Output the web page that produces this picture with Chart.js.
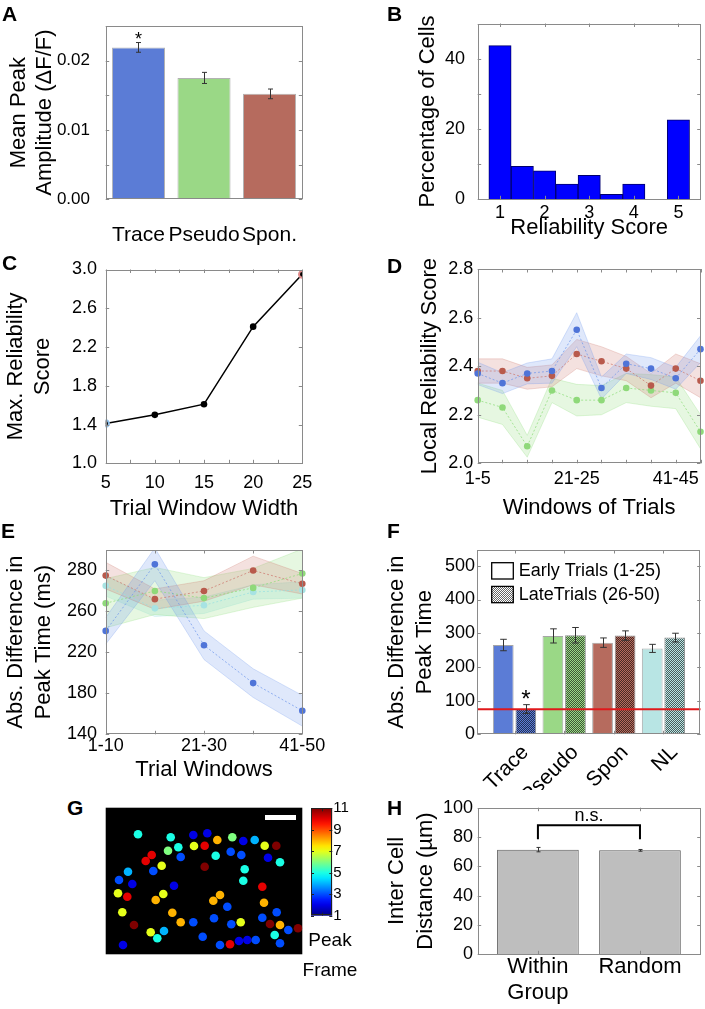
<!DOCTYPE html>
<html>
<head>
<meta charset="utf-8">
<script src="https://cdn.jsdelivr.net/npm/chart.js@4/dist/chart.umd.min.js"></script>
<style>
  body { margin: 0; background: #fff; }
  #fig { position: relative; width: 705px; height: 1009px; overflow: hidden; font-family: 'Liberation Sans', Arial, sans-serif; }
  #fig canvas { position: absolute; }
  .tag { position: absolute; font-weight: bold; font-size: 21px; line-height: 21px; }
  .cbtitle { position: absolute; left: 290px; width: 80px; text-align: center; font-size: 19px; line-height: 30px; }
</style>
</head>
<body>
<div id="fig">
  <canvas id="chartA" width="340" height="250" style="left:0;top:0"></canvas>
  <canvas id="chartB" width="345" height="250" style="left:360px;top:0"></canvas>
  <canvas id="chartC" width="340" height="275" style="left:0;top:250px"></canvas>
  <canvas id="chartD" width="345" height="275" style="left:360px;top:250px"></canvas>
  <canvas id="chartE" width="340" height="260" style="left:0;top:525px"></canvas>
  <canvas id="chartF" width="345" height="265" style="left:360px;top:525px"></canvas>
  <canvas id="chartG" width="210" height="160" style="left:100px;top:800px"></canvas>
  <canvas id="chartBar" width="60" height="135" style="left:300px;top:795px"></canvas>
  <canvas id="chartH" width="345" height="219" style="left:360px;top:790px"></canvas>
  <div class="cbtitle" style="top:925px">Peak<br>Frame</div>
  <div class="tag" style="left:2px;top:3px">A</div>
  <div class="tag" style="left:387px;top:3px">B</div>
  <div class="tag" style="left:2px;top:252px">C</div>
  <div class="tag" style="left:387px;top:255px">D</div>
  <div class="tag" style="left:1px;top:520px">E</div>
  <div class="tag" style="left:387px;top:520px">F</div>
  <div class="tag" style="left:67px;top:797px">G</div>
  <div class="tag" style="left:387px;top:797px">H</div>
</div>
<script>
// ---- data ----
const A_GROUPS = ["Trace", "Pseudo", "Spon."];
const A_MEANS = [0.0219, 0.0175, 0.0152];
const A_ERRORS = [0.0007, 0.0008, 0.0007];
const A_MARKS = ["*", "", ""];

const B_BIN_CENTERS = [1, 1.5, 2, 2.5, 3, 3.5, 4, 4.5, 5];
const B_PERCENT = [43.7, 9.4, 8.1, 4.3, 6.8, 1.4, 4.3, 0, 22.6];
const B_SCORE_TICKS = [1, 2, 3, 4, 5];

const C_WIDTHS = [5, 10, 15, 20, 25];
const C_MAX_SCORE = [1.41, 1.50, 1.61, 2.41, 2.95];

const D_WINDOWS = ["1-5", "6-10", "11-15", "16-20", "21-25", "26-30", "31-35", "36-40", "41-45", "46-50"];
const D_LABELED = ["1-5", "21-25", "41-45"];
const D_TRACE = [2.37, 2.33, 2.37, 2.38, 2.55, 2.31, 2.41, 2.39, 2.35, 2.47];
const D_TRACE_SEM = [0.046, 0.043, 0.043, 0.05, 0.07, 0.045, 0.04, 0.045, 0.045, 0.055];
const D_SPON = [2.38, 2.38, 2.35, 2.36, 2.45, 2.42, 2.39, 2.32, 2.39, 2.34];
const D_SPON_SEM = [0.05, 0.05, 0.045, 0.045, 0.06, 0.06, 0.05, 0.05, 0.06, 0.07];
const D_PSEUDO = [2.26, 2.23, 2.07, 2.30, 2.26, 2.26, 2.31, 2.30, 2.29, 2.13];
const D_PSEUDO_SEM = [0.07, 0.07, 0.045, 0.05, 0.065, 0.06, 0.06, 0.065, 0.065, 0.07];

const E_WINDOWS = ["1-10", "11-20", "21-30", "31-40", "41-50"];
const E_LABELED = ["1-10", "21-30", "41-50"];
const E_TICK_VALUES = [140, 180, 220, 260, 300];
const E_TICK_TEXT = ["140", "180", "220", "260", "280"];
const E_TRACE = [241, 306, 227, 190, 163];
const E_TRACE_SEM = [13, 16, 14, 14, 15];
const E_SPON = [295, 272, 280, 300, 287];
const E_SPON_SEM = [13, 10, 10, 14, 10];
const E_PSEUDO = [268, 280, 273, 283, 297];
const E_PSEUDO_SEM = [24, 23, 20, 19, 24];
const E_NL = [285, 263, 266, 279, 281];
const E_NL_SEM = [10, 8, 8, 7, 8];

const F_GROUPS = ["Trace", "Pseudo", "Spon", "NL"];
const F_LEGEND = ["Early Trials (1-25)", "LateTrials (26-50)"];
const F_EARLY = [265, 292, 272, 255];
const F_EARLY_ERR = [17, 21, 14, 12];
const F_LATE = [75, 294, 293, 287];
const F_LATE_ERR = [13, 23, 14, 13];
const F_LATE_MARKS = ["*", "", "", ""];
const F_CHANCE = 74;
const F_X_RANGE = [0.25, 4.75];

const G_CELL_X = [32.3, 65, 72.6, 62.3, 75, 87.6, 88.3, 99, 46, 40, 56, 47.6, 99, 22.3, 13.3, 26.6, 68.3, 12.3, 21.6, 57.6,
  50, 16.6, 66.6, 75, 28.3, 87.6, 45, 58.3, 51.6, 17.3, 97, 101.6, 111.6, 126.6, 137.6, 149, 159, 170.6, 110, 125,
  135.6, 162.3, 174.3, 139, 137.6, 156.6, 158.3, 114.3, 107.6, 121.6, 108.3, 125.6, 135, 171, 156.6, 164.3, 174.3, 182.6, 192.3, 169,
  174.3, 114.3, 124.3, 133.3, 141.6, 150];
const G_CELL_Y = [26.6, 29.6, 39.6, 43, 49.3, 27.3, 38.3, 38, 47.3, 53.3, 58, 63.3, 59, 64, 72.3, 76.3, 78, 85.6, 89, 86.3,
  92.3, 104.6, 105, 114.6, 117.3, 114.6, 124.6, 123.3, 130.6, 137.3, 129, 25.6, 32.3, 29.6, 33.3, 32.3, 38, 38, 48, 44,
  47.3, 50, 54.6, 61.6, 73, 79, 95, 87.3, 93, 99, 110.6, 116.6, 114.6, 104.6, 110, 116.3, 117.3, 122.3, 120.6, 127.3,
  135.6, 137.3, 136.6, 133.3, 132.3, 132.3];
const G_CELL_FRAME = [5, 5, 5, 6, 3, 2, 7, 10, 10, 10, 7, 3, 11, 4, 3, 2, 2, 7, 10, 7,
  8, 7, 8, 8, 11, 3, 7, 4, 5, 2, 3, 2, 8, 6, 2, 4, 7, 11, 5, 3,
  3, 2, 5, 5, 5, 10, 8, 8, 8, 3, 3, 3, 7, 3, 3, 11, 8, 3, 11, 5,
  3, 3, 10, 2, 2, 3];
const G_IMAGE_SIZE = [196.6, 146.6];
const G_SCALE_BAR = [[159.3, 9.8], [190.3, 9.8]];
const G_FRAME_RANGE = [1, 11];
const G_FRAME_TICKS = [1, 3, 5, 7, 9, 11];

const H_GROUPS = [["Within", "Group"], "Random"];
const H_MEANS = [71.4, 70.9];
const H_ERRORS = [1.5, 0.6];
const H_BRACKET = { top: 88, foot: 78.4, text: 94 };

// ---- look ----
const FONT = "'Liberation Sans', Arial, sans-serif";
Chart.defaults.font.family = FONT;
Chart.defaults.color = "#000";
Chart.defaults.animation = false;
Chart.defaults.responsive = false;
Chart.defaults.devicePixelRatio = 1;
Chart.defaults.plugins.legend.display = false;
Chart.defaults.plugins.tooltip.enabled = false;

const GROUP_FILLS = ["#5b7cd6", "#9ad886", "#b66b5e", "#b8e5e4"];
const DOTS = { trace: "#4f74d8", spon: "#b85a4c", pseudo: "#8fd97a", nl: "#a7e3e3" };
const BANDS = {
  trace: "rgba(110,150,235,0.22)", spon: "rgba(205,120,110,0.22)",
  pseudo: "rgba(140,220,120,0.22)", nl: "rgba(150,225,225,0.25)"
};

const seq = (a, b, s) => Array.from({ length: Math.round((b - a) / s) + 1 }, (_, i) => +(a + i * s).toFixed(6));
const ticksAt = vals => s => { s.ticks = vals.map(v => ({ value: v })); };
const labelEvery = (step, digits, base = 0) => v => {
  const k = (v - base) / step;
  return Math.abs(k - Math.round(k)) < 1e-6 ? v.toFixed(digits) : "";
};
const frameAxis = o => Object.assign({ grid: { display: false, drawTicks: false }, border: { display: false } }, o);
const yTitle = (text, lh, pad) => ({ display: true, text, font: { size: 22, lineHeight: lh / 22 }, padding: { top: pad, bottom: 0 } });
const xTitle = (text, pad) => ({ display: true, text, font: { size: 22, lineHeight: 1.2 }, padding: { top: 0, bottom: pad } });
const flat = (size, pad, extra) => Object.assign({ font: { size }, padding: pad, maxRotation: 0, minRotation: 0, autoSkip: false }, extra);

function jet(frame) {
  const t = (frame - G_FRAME_RANGE[0]) / (G_FRAME_RANGE[1] - G_FRAME_RANGE[0]);
  const c = v => Math.round(255 * Math.max(0, Math.min(1, v)));
  return `rgb(${c(1.5 - Math.abs(4 * t - 3))},${c(1.5 - Math.abs(4 * t - 2))},${c(1.5 - Math.abs(4 * t - 1))})`;
}

function stipple(color) {
  const c = document.createElement("canvas");
  c.width = c.height = 2;
  const g = c.getContext("2d");
  g.fillStyle = color; g.fillRect(0, 0, 2, 2);
  g.fillStyle = "rgba(0,0,0,0.6)"; g.fillRect(0, 0, 1, 1); g.fillRect(1, 1, 1, 1);
  return g.createPattern(c, "repeat");
}

// box with inward ticks, matlab style
const boxFrame = {
  id: "boxFrame",
  afterDraw(chart, args, opts) {
    if (!opts.show) return;
    const { ctx, chartArea: a } = chart;
    const len = opts.tick || 3.5;
    const xs = chart.scales.x, ys = chart.scales.y;
    ctx.save();
    ctx.strokeStyle = opts.color || "#8a8a8a";
    ctx.lineWidth = 1;
    ctx.beginPath();
    if (xs && opts.xTicks !== false) xs.ticks.forEach((t, i) => {
      const p = Math.round(xs.getPixelForTick(i)) + 0.5;
      ctx.moveTo(p, a.bottom); ctx.lineTo(p, a.bottom - len);
      ctx.moveTo(p, a.top); ctx.lineTo(p, a.top + len);
    });
    if (ys) ys.ticks.forEach((t, i) => {
      const p = Math.round(ys.getPixelForTick(i)) + 0.5;
      ctx.moveTo(a.left, p); ctx.lineTo(a.left + len, p);
      ctx.moveTo(a.right, p); ctx.lineTo(a.right - len, p);
    });
    ctx.stroke();
    ctx.strokeRect(Math.round(a.left) + 0.5, Math.round(a.top) + 0.5, Math.round(a.width) - 1, Math.round(a.height) - 1);
    ctx.restore();
  }
};

const errorBars = {
  id: "errorBars",
  afterDatasetsDraw(chart) {
    const { ctx } = chart;
    const ys = chart.scales.y;
    chart.data.datasets.forEach((ds, i) => {
      if (!ds.errors) return;
      const meta = chart.getDatasetMeta(i);
      ctx.save();
      ctx.strokeStyle = "#333";
      ctx.lineWidth = 1;
      meta.data.forEach((bar, j) => {
        const v = meta.controller.getParsed(j).y;
        const hi = ys.getPixelForValue(v + ds.errors[j]);
        const lo = ys.getPixelForValue(v - ds.errors[j]);
        const x = Math.round(bar.x) + 0.5, cap = ds.capWidth || 3;
        ctx.beginPath();
        ctx.moveTo(x, hi); ctx.lineTo(x, lo);
        ctx.moveTo(x - cap, hi); ctx.lineTo(x + cap, hi);
        ctx.moveTo(x - cap, lo); ctx.lineTo(x + cap, lo);
        ctx.stroke();
        if (ds.marks && ds.marks[j]) {
          ctx.fillStyle = "#000";
          ctx.font = `${ds.markSize || 18}px ${FONT}`;
          ctx.textAlign = "center";
          ctx.textBaseline = "alphabetic";
          ctx.fillText(ds.marks[j], bar.x, hi + 2);
        }
      });
      ctx.restore();
    });
  }
};

Chart.register(boxFrame, errorBars);

function bandSets(mean, sem, dot, band) {
  const edge = band.replace(/[\d.]+\)$/, "0.45)");
  return [
    { data: mean, order: 0, borderColor: band.replace(/[\d.]+\)$/, "0.9)"), borderWidth: 0.8, borderDash: [2, 2],
      pointRadius: 3.3, pointBackgroundColor: dot, pointBorderWidth: 0, fill: false },
    { data: mean.map((v, i) => v + sem[i]), order: 1, borderColor: edge, borderWidth: 0.6, pointRadius: 0, fill: "+1", backgroundColor: band },
    { data: mean.map((v, i) => v - sem[i]), order: 1, borderColor: edge, borderWidth: 0.6, pointRadius: 0, fill: false }
  ];
}

// ---- A ----
new Chart(document.getElementById("chartA"), {
  type: "bar",
  data: {
    labels: A_GROUPS,
    datasets: [{ data: A_MEANS, errors: A_ERRORS, marks: A_MARKS, markSize: 18, capWidth: 2.5,
      backgroundColor: GROUP_FILLS, borderColor: "rgba(0,0,0,0.3)", borderWidth: 1,
      barPercentage: 0.81, categoryPercentage: 1 }]
  },
  options: {
    layout: { padding: { left: 0, top: 15, right: 37.7, bottom: 0 } },
    scales: {
      x: frameAxis({ ticks: flat(21, 23), afterFit: s => { s.height = 50.7; } }),
      y: frameAxis({ min: 0, max: 0.025, afterBuildTicks: ticksAt(seq(0, 0.025, 0.005)),
        ticks: { font: { size: 17 }, padding: 15.7, callback: labelEvery(0.01, 2) },
        title: yTitle(["Mean Peak", "Amplitude (\u0394F/F)"], 26, 6), afterFit: s => { s.width = 105.7; } })
    },
    plugins: { boxFrame: { show: true, xTicks: false } }
  }
});

// ---- B ----
new Chart(document.getElementById("chartB"), {
  type: "bar",
  data: {
    datasets: [{ data: B_BIN_CENTERS.map((x, i) => ({ x, y: B_PERCENT[i] })),
      backgroundColor: "#0000ff", borderColor: "#00006e", borderWidth: 1, barPercentage: 1, categoryPercentage: 1 }]
  },
  options: {
    layout: { padding: { left: 0, top: 15.7, right: 4.3, bottom: 0 } },
    scales: {
      x: frameAxis({ type: "linear", offset: false, min: 0.5, max: 5.5, afterBuildTicks: ticksAt(B_SCORE_TICKS),
        ticks: flat(18, 2.5), title: xTitle("Reliability Score", 8.8),
        afterFit: s => { s.height = 50.7; } }),
      y: frameAxis({ min: 0, max: 50, afterBuildTicks: ticksAt(seq(0, 50, 10)),
        ticks: { font: { size: 18 }, padding: 12.7, callback: labelEvery(20, 0) },
        title: yTitle("Percentage of Cells", 26.4, 54.8), afterFit: s => { s.width = 117.7; } })
    },
    plugins: { boxFrame: { show: true } }
  }
});

// ---- C ----
new Chart(document.getElementById("chartC"), {
  type: "line",
  data: {
    datasets: [{ data: C_WIDTHS.map((x, i) => ({ x, y: C_MAX_SCORE[i] })), borderColor: "#000", borderWidth: 1.5,
      pointRadius: 3.3, pointBackgroundColor: "#000",
      pointBorderColor: ["#8bbbe6", "#000", "#000", "#000", "#e08a8a"], pointBorderWidth: [2, 0, 0, 0, 2] }]
  },
  options: {
    layout: { padding: { left: 0, top: 19, right: 37.7, bottom: 0 } },
    scales: {
      x: frameAxis({ type: "linear", min: 5, max: 25, afterBuildTicks: ticksAt(seq(5, 25, 2.5)),
        ticks: flat(18, 8.5, { callback: labelEvery(5, 0) }),
        title: xTitle("Trial Window Width", 2.8), afterFit: s => { s.height = 61.7; } }),
      y: frameAxis({ min: 1, max: 3, afterBuildTicks: ticksAt(seq(1, 3, 0.2)),
        ticks: { font: { size: 18 }, padding: 8.7, callback: labelEvery(0.4, 1, 1) },
        title: yTitle(["Max. Reliability", "Score"], 27, 2.5), afterFit: s => { s.width = 105.7; } })
    },
    plugins: { boxFrame: { show: true } }
  }
});

// ---- D ----
new Chart(document.getElementById("chartD"), {
  type: "line",
  data: {
    labels: D_WINDOWS,
    datasets: [
      ...bandSets(D_TRACE, D_TRACE_SEM, DOTS.trace, BANDS.trace),
      ...bandSets(D_SPON, D_SPON_SEM, DOTS.spon, BANDS.spon),
      ...bandSets(D_PSEUDO, D_PSEUDO_SEM, DOTS.pseudo, BANDS.pseudo)
    ]
  },
  options: {
    layout: { padding: { left: 0, top: 19, right: 4.3, bottom: 0 } },
    scales: {
      x: frameAxis({ ticks: flat(18, 4.5, { callback: (v, i) => D_LABELED.includes(D_WINDOWS[i]) ? D_WINDOWS[i] : "" }),
        title: xTitle("Windows of Trials", 3.8), afterFit: s => { s.height = 61.7; } }),
      y: frameAxis({ min: 2, max: 2.8, afterBuildTicks: ticksAt(seq(2, 2.8, 0.1)),
        ticks: { font: { size: 18 }, padding: 4.4, callback: labelEvery(0.2, 1, 2) },
        title: yTitle("Local Reliability Score", 26.4, 56.8), afterFit: s => { s.width = 117.7; } })
    },
    plugins: { boxFrame: { show: true } }
  }
});

// ---- E ----
new Chart(document.getElementById("chartE"), {
  type: "line",
  data: {
    labels: E_WINDOWS,
    datasets: [
      ...bandSets(E_TRACE, E_TRACE_SEM, DOTS.trace, BANDS.trace),
      ...bandSets(E_SPON, E_SPON_SEM, DOTS.spon, BANDS.spon),
      ...bandSets(E_PSEUDO, E_PSEUDO_SEM, DOTS.pseudo, BANDS.pseudo),
      ...bandSets(E_NL, E_NL_SEM, DOTS.nl, BANDS.nl)
    ]
  },
  options: {
    layout: { padding: { left: 0, top: 25, right: 37.7, bottom: 0 } },
    scales: {
      x: frameAxis({ ticks: flat(18, 0.5, { callback: (v, i) => E_LABELED.includes(E_WINDOWS[i]) ? E_WINDOWS[i] : "" }),
        title: xTitle("Trial Windows", 2.3), afterFit: s => { s.height = 50.7; } }),
      y: frameAxis({ min: 140, max: 320, afterBuildTicks: ticksAt(seq(140, 320, 20)),
        ticks: { font: { size: 18 }, padding: 8.7, callback: v => {
          const k = E_TICK_VALUES.indexOf(v);
          return k < 0 ? "" : E_TICK_TEXT[k];
        } },
        title: yTitle(["Abs. Difference in", "Peak Time (ms)"], 28, 2), afterFit: s => { s.width = 105.7; } })
    },
    plugins: { boxFrame: { show: true } }
  }
});

// ---- F ----
const fLegend = {
  id: "fLegend",
  afterDraw(chart) {
    const { ctx, chartArea: a } = chart;
    ctx.save();
    ctx.font = `18px ${FONT}`;
    ctx.textBaseline = "middle";
    F_LEGEND.forEach((text, i) => {
      const x = a.left + 14.4, y = a.top + 12.7 + i * 23.7;
      ctx.fillStyle = i ? stipple("#ffffff") : "#ffffff";
      ctx.fillRect(x, y, 21.6, 16.3);
      ctx.strokeStyle = "#000"; ctx.lineWidth = 1.3;
      ctx.strokeRect(x, y, 21.6, 16.3);
      ctx.fillStyle = "#000";
      ctx.fillText(text, x + 27, y + 8.5);
    });
    ctx.restore();
  }
};

new Chart(document.getElementById("chartF"), {
  type: "bar",
  data: {
    datasets: [
      { data: F_EARLY.map((y, i) => ({ x: i + 1, y })), errors: F_EARLY_ERR, capWidth: 3.3,
        backgroundColor: GROUP_FILLS, borderColor: "rgba(0,0,0,0.35)", borderWidth: 1,
        barPercentage: 0.92, categoryPercentage: 0.908 },
      { data: F_LATE.map((y, i) => ({ x: i + 1, y })), errors: F_LATE_ERR, capWidth: 3.3,
        marks: F_LATE_MARKS, markSize: 24,
        backgroundColor: GROUP_FILLS.map(stipple), borderColor: "rgba(0,0,0,0.45)", borderWidth: 1,
        barPercentage: 0.92, categoryPercentage: 0.908 },
      { type: "line", order: -1, data: F_X_RANGE.map(x => ({ x, y: F_CHANCE })),
        borderColor: "#e0181b", borderWidth: 2, pointRadius: 0 }
    ]
  },
  options: {
    layout: { padding: { left: 0, top: 25, right: 4.3, bottom: 0 } },
    scales: {
      x: frameAxis({ type: "linear", offset: false, min: F_X_RANGE[0], max: F_X_RANGE[1], afterBuildTicks: ticksAt([1, 2, 3, 4]),
        ticks: { font: { size: 21 }, padding: 6, labelOffset: 11, minRotation: 45, maxRotation: 45, autoSkip: false,
          callback: v => F_GROUPS[v - 1] },
        afterFit: s => { s.height = 55.7; } }),
      y: frameAxis({ min: 0, max: 547, afterBuildTicks: ticksAt(seq(0, 500, 50)),
        ticks: { font: { size: 18 }, padding: 2.3, callback: labelEvery(100, 0) },
        title: yTitle(["Abs. Difference in", "Peak Time"], 28, 23), afterFit: s => { s.width = 117.3; } })
    },
    plugins: { boxFrame: { show: true } }
  },
  plugins: [fLegend]
});

// ---- G ----
const blackImage = {
  id: "blackImage",
  beforeDatasetsDraw(chart) {
    const { ctx, chartArea: a } = chart;
    ctx.save();
    ctx.fillStyle = "#000";
    ctx.fillRect(a.left, a.top, a.width, a.height);
    ctx.restore();
  }
};

new Chart(document.getElementById("chartG"), {
  type: "scatter",
  data: {
    datasets: [
      { data: G_CELL_X.map((x, i) => ({ x, y: G_CELL_Y[i] })), backgroundColor: G_CELL_FRAME.map(jet),
        pointRadius: 4.3, pointBorderWidth: 0 },
      { type: "line", data: G_SCALE_BAR.map(([x, y]) => ({ x, y })), borderColor: "#fff", borderWidth: 5, pointRadius: 0 }
    ]
  },
  options: {
    layout: { padding: { left: 5.7, top: 7.7, right: 7.7, bottom: 5.7 } },
    scales: {
      x: { type: "linear", display: false, min: 0, max: G_IMAGE_SIZE[0] },
      y: { type: "linear", display: false, min: 0, max: G_IMAGE_SIZE[1], reverse: true }
    }
  },
  plugins: [blackImage]
});

// colour bar: a single floating bar spanning the frame range
new Chart(document.getElementById("chartBar"), {
  type: "bar",
  data: {
    labels: ["Peak Frame"],
    datasets: [{ data: [G_FRAME_RANGE], barPercentage: 1, categoryPercentage: 1, borderWidth: 0,
      backgroundColor: c => {
        const a = c.chart.chartArea;
        if (!a) return "#888";
        const g = c.chart.ctx.createLinearGradient(0, a.bottom, 0, a.top);
        for (let f = G_FRAME_RANGE[0]; f <= G_FRAME_RANGE[1]; f += 0.5) {
          g.addColorStop((f - G_FRAME_RANGE[0]) / (G_FRAME_RANGE[1] - G_FRAME_RANGE[0]), jet(f));
        }
        return g;
      } }]
  },
  options: {
    layout: { padding: { left: 11, top: 13.3, right: 11, bottom: 14.3 } },
    scales: {
      x: { display: false },
      y: frameAxis({ position: "right", min: G_FRAME_RANGE[0], max: G_FRAME_RANGE[1],
        afterBuildTicks: ticksAt(G_FRAME_TICKS), ticks: { font: { size: 15 }, padding: 1 },
        afterFit: s => { s.width = 16.7; } })
    },
    plugins: { boxFrame: { show: true, color: "#222", tick: 3 } }
  }
});

// ---- H ----
const nsBracket = {
  id: "nsBracket",
  afterDatasetsDraw(chart) {
    const { ctx, scales: { x, y } } = chart;
    const x1 = x.getPixelForValue(1), x2 = x.getPixelForValue(2);
    const top = y.getPixelForValue(H_BRACKET.top), foot = y.getPixelForValue(H_BRACKET.foot);
    ctx.save();
    ctx.strokeStyle = "#000";
    ctx.lineWidth = 2;
    ctx.beginPath();
    ctx.moveTo(x1, foot); ctx.lineTo(x1, top); ctx.lineTo(x2, top); ctx.lineTo(x2, foot);
    ctx.stroke();
    ctx.fillStyle = "#000";
    ctx.font = `18px ${FONT}`;
    ctx.textAlign = "center";
    ctx.textBaseline = "middle";
    ctx.fillText("n.s.", (x1 + x2) / 2, y.getPixelForValue(H_BRACKET.text));
    ctx.restore();
  }
};

new Chart(document.getElementById("chartH"), {
  type: "bar",
  data: {
    datasets: [{ data: H_MEANS.map((y, i) => ({ x: i + 1, y })), errors: H_ERRORS, capWidth: 2,
      backgroundColor: "#bebebe", borderColor: "#5a5a5a", borderWidth: 1, barPercentage: 0.8, categoryPercentage: 1 }]
  },
  options: {
    layout: { padding: { left: 0, top: 17.7, right: 4.3, bottom: 0 } },
    scales: {
      x: frameAxis({ type: "linear", offset: false, min: 0.41, max: 2.595, afterBuildTicks: ticksAt([1, 2]),
        ticks: { font: { size: 22, lineHeight: 26 / 22 }, padding: 0, maxRotation: 0, minRotation: 0, autoSkip: false,
          callback: v => H_GROUPS[v - 1] },
        afterFit: s => { s.height = 54.7; } }),
      y: frameAxis({ min: 0, max: 100, afterBuildTicks: ticksAt(seq(0, 100, 10)),
        ticks: { font: { size: 18 }, padding: 4.7, callback: labelEvery(20, 0) },
        title: yTitle(["Inter Cell", "Distance (\u00b5m)"], 29, 22.5), afterFit: s => { s.width = 117.7; } })
    },
    plugins: { boxFrame: { show: true } }
  },
  plugins: [nsBracket]
});
</script>
</body>
</html>
